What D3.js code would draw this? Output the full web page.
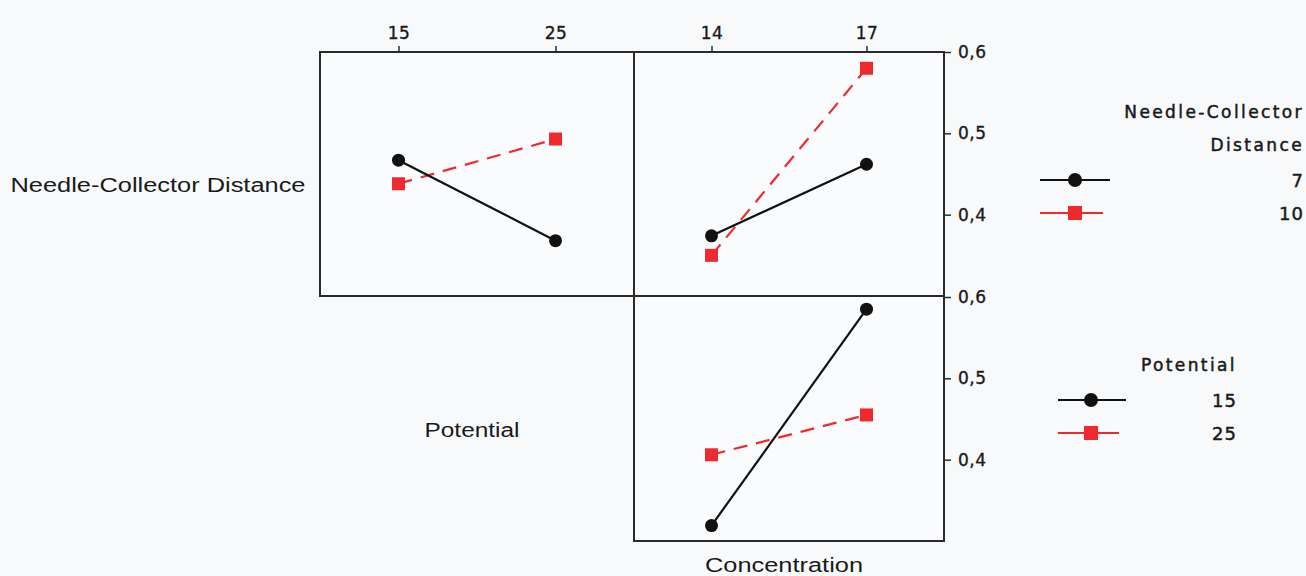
<!DOCTYPE html>
<html>
<head>
<meta charset="utf-8">
<script src="https://cdn.jsdelivr.net/npm/d3@7"></script>
<style>
  html, body { margin: 0; padding: 0; background: #f8f9fb; }
  svg { display: block; }
</style>
</head>
<body>
<svg id="chart" width="1306" height="576"></svg>
<script>
// Interaction plot data (mean response per factor-level combination)
const potentialLevels = [15, 25];
const concentrationLevels = [14, 17];
const distanceLevels = [7, 10];

// Needle-Collector Distance series across Potential
const distPotential7 = [0.467, 0.368];
const distPotential10 = [0.438, 0.493];
// Needle-Collector Distance series across Concentration
const distConc7 = [0.374, 0.462];
const distConc10 = [0.350, 0.580];
// Potential series across Concentration
const potConc15 = [0.319, 0.585];
const potConc25 = [0.406, 0.455];

const yTicks = [0.4, 0.5, 0.6];
const rowLabels = ["Needle-Collector Distance", "Potential"];
const colLabel = "Concentration";
const legendDistance = { title: ["Needle-Collector", "Distance"], items: ["7", "10"] };
const legendPotential = { title: ["Potential"], items: ["15", "25"] };

const BLACK = "#111111";
const RED = "#ee2a2e";
const FRAME = "#2b2b2b";
const TEXT = "#1a1a1a";

const svg = d3.select("#chart");

// Panel geometry
const xL0 = 320, xM = 634, xR = 944;
const yT0 = 52, yMid = 296, yB1 = 541;

const xPot = d3.scalePoint().domain(potentialLevels).range([xL0, xM]).padding(0.5);
const xConc = d3.scalePoint().domain(concentrationLevels).range([xM, xR]).padding(0.5);
const yTop = d3.scaleLinear().domain([0.3, 0.6]).range([yMid, yT0]);
const yBot = d3.scaleLinear().domain([0.3, 0.6]).range([yB1, yMid + 1]);

const fmt = v => d3.format(".1f")(v).replace(".", ",");

// Panel backgrounds and frames
const frames = svg.append("g");
frames.append("rect").attr("x", xL0).attr("y", yT0).attr("width", xM - xL0).attr("height", yMid - yT0)
  .attr("fill", "#fafbfd").attr("stroke", FRAME).attr("stroke-width", 2);
frames.append("rect").attr("x", xM).attr("y", yT0).attr("width", xR - xM).attr("height", yMid - yT0)
  .attr("fill", "#fafbfd").attr("stroke", FRAME).attr("stroke-width", 2);
frames.append("rect").attr("x", xM).attr("y", yMid).attr("width", xR - xM).attr("height", yB1 - yMid)
  .attr("fill", "#fafbfd").attr("stroke", FRAME).attr("stroke-width", 2);

// Axis styling
function styleAxis(g) {
  g.select(".domain").remove();
  g.selectAll(".tick line").attr("stroke", FRAME).attr("stroke-width", 1.5);
  g.selectAll(".tick text").attr("fill", TEXT).attr("stroke", TEXT).attr("stroke-width", 0.35)
    .style("font-family", "'DejaVu Sans', Verdana, sans-serif").style("font-size", "17px")
    .style("letter-spacing", "0.5px");
}
// Top axes (factor levels)
svg.append("g").attr("transform", `translate(0,${yT0})`)
  .call(d3.axisTop(xPot).tickSize(6).tickPadding(7)).call(styleAxis);
svg.append("g").attr("transform", `translate(0,${yT0})`)
  .call(d3.axisTop(xConc).tickSize(6).tickPadding(7)).call(styleAxis);

// Right axes (response)
svg.append("g").attr("transform", `translate(${xR},0)`)
  .call(d3.axisRight(yTop).tickValues(yTicks).tickFormat(fmt).tickSize(7).tickPadding(7)).call(styleAxis);
svg.append("g").attr("transform", `translate(${xR},0)`)
  .call(d3.axisRight(yBot).tickValues(yTicks).tickFormat(fmt).tickSize(7).tickPadding(7)).call(styleAxis);

// Series drawing
function drawSeries(xScale, yScale, values, color, dashed, shape) {
  const pts = xScale.domain().map((k, i) => [xScale(k), yScale(values[i])]);
  const g = svg.append("g");
  g.append("path").attr("d", d3.line()(pts)).attr("fill", "none")
    .attr("stroke", color).attr("stroke-width", 2.2)
    .attr("stroke-dasharray", dashed ? "14,9" : null);
  if (shape === "circle") {
    g.selectAll("circle").data(pts).join("circle")
      .attr("cx", d => d[0]).attr("cy", d => d[1]).attr("r", 6.5).attr("fill", color);
  } else {
    g.selectAll("rect").data(pts).join("rect")
      .attr("x", d => d[0] - 6.5).attr("y", d => d[1] - 6.5).attr("width", 13).attr("height", 13).attr("fill", color);
  }
}
drawSeries(xPot, yTop, distPotential10, RED, true, "square");
drawSeries(xPot, yTop, distPotential7, BLACK, false, "circle");
drawSeries(xConc, yTop, distConc10, RED, true, "square");
drawSeries(xConc, yTop, distConc7, BLACK, false, "circle");
drawSeries(xConc, yBot, potConc25, RED, true, "square");
drawSeries(xConc, yBot, potConc15, BLACK, false, "circle");

// Factor labels (slightly widened glyphs)
const labelFont = "'Liberation Sans', Arial, sans-serif";
function factorLabel(cx, y, text, width) {
  svg.append("text").attr("x", cx - width / 2).attr("y", y)
    .attr("textLength", width).attr("lengthAdjust", "spacingAndGlyphs")
    .style("font-family", labelFont).style("font-size", "20px").attr("fill", TEXT).text(text);
}
factorLabel(158, 192, rowLabels[0], 295);
factorLabel(472, 437, rowLabels[1], 95);
factorLabel(784, 572, colLabel, 158);

// Legends
function drawLegend(spec, rightX, titleY, rowY, lineX0, lineX1, markX) {
  const g = svg.append("g")
    .style("font-family", "'DejaVu Sans', Verdana, sans-serif")
    .attr("fill", TEXT).attr("stroke", TEXT).attr("stroke-width", 0.5);
  spec.title.forEach((t, i) => {
    g.append("text").attr("x", rightX).attr("y", titleY + i * 33).attr("text-anchor", "end")
      .style("font-size", "17px").style("letter-spacing", "2.4px").text(t);
  });
  const colors = [BLACK, RED];
  spec.items.forEach((t, i) => {
    const y = rowY + i * 33;
    g.append("line").attr("x1", lineX0).attr("x2", lineX1 - (i ? 7 : 0)).attr("y1", y).attr("y2", y)
      .attr("stroke", colors[i]).attr("stroke-width", 2);
    if (i === 0) g.append("circle").attr("cx", markX).attr("cy", y).attr("r", 7).attr("fill", colors[i]).attr("stroke", "none");
    else g.append("rect").attr("x", markX - 7).attr("y", y - 7).attr("width", 14).attr("height", 14).attr("fill", colors[i]).attr("stroke", "none");
    g.append("text").attr("x", rightX).attr("y", y + 7).attr("text-anchor", "end")
      .style("font-size", "18px").style("letter-spacing", "1px").text(t);
  });
}
drawLegend(legendDistance, 1304, 118, 180, 1040, 1110, 1075);
drawLegend(legendPotential, 1237, 371, 400, 1058, 1126, 1091);
</script>
</body>
</html>
